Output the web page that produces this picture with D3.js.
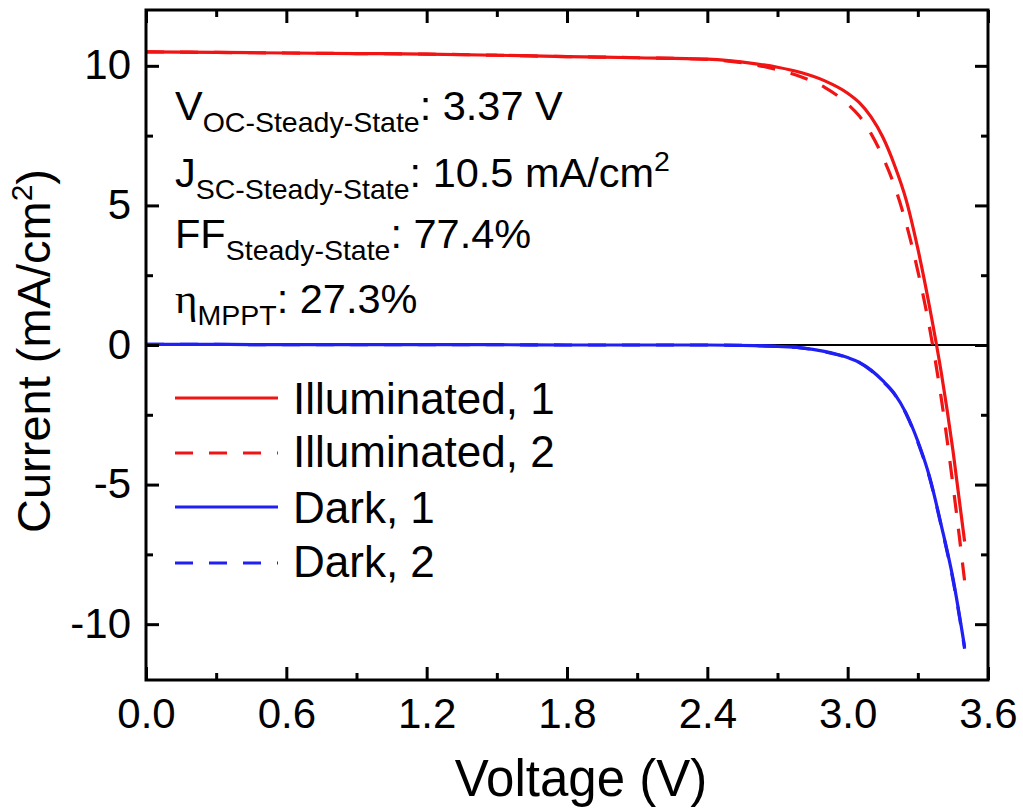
<!DOCTYPE html>
<html>
<head>
<meta charset="utf-8">
<script src="https://cdn.jsdelivr.net/npm/d3@7"></script>
<style>
  html, body { margin: 0; padding: 0; background: #fff; }
  svg { display: block; font-family: "Liberation Sans", Arial, sans-serif; }
</style>
</head>
<body>
<svg id="chart" width="1023" height="809"></svg>
<script>
// J–V sweeps of the device, voltage in V, current density in mA/cm²
const voltage = [0, 0.3, 0.6, 0.9, 1.2, 1.5, 1.8, 2.1, 2.4, 2.6, 2.7, 2.8, 2.9, 3.0, 3.05, 3.1, 3.15, 3.2, 3.25, 3.3, 3.35, 3.4, 3.45, 3.5];

const illuminated1 = [10.50, 10.48, 10.46, 10.44, 10.42, 10.38, 10.33, 10.29, 10.24, 10.08, 9.95, 9.76, 9.47, 9.02, 8.68, 8.17, 7.45, 6.45, 5.20, 3.45, 1.37, -0.98, -3.77, -7.04];
const illuminated2 = [10.50, 10.48, 10.46, 10.44, 10.42, 10.38, 10.33, 10.29, 10.23, 10.04, 9.86, 9.61, 9.24, 8.63, 8.20, 7.57, 6.74, 5.70, 4.35, 2.65, 0.62, -1.90, -5.00, -8.45];
const dark1 = [0.02, 0.02, 0.01, 0.01, 0.01, 0.01, 0.00, 0.00, 0.00, -0.02, -0.05, -0.10, -0.23, -0.45, -0.62, -0.90, -1.28, -1.74, -2.45, -3.45, -4.72, -6.45, -8.35, -10.82];
const dark2 = [0.02, 0.02, 0.01, 0.01, 0.01, 0.01, 0.00, 0.00, 0.00, -0.02, -0.05, -0.10, -0.24, -0.46, -0.63, -0.91, -1.30, -1.76, -2.47, -3.48, -4.75, -6.48, -8.40, -10.88];

const seriesNames = ["Illuminated, 1", "Illuminated, 2", "Dark, 1", "Dark, 2"];
const seriesValues = [illuminated1, illuminated2, dark1, dark2];
const seriesColors = ["#f01414", "#f01414", "#2020f4", "#2020f4"];
const seriesDashed = [false, true, false, true];

const xTicks = [0, 0.6, 1.2, 1.8, 2.4, 3.0, 3.6];
const xMinorTicks = [0.3, 0.9, 1.5, 2.1, 2.7, 3.3];
const yTicks = [-10, -5, 0, 5, 10];
const yMinorTicks = [-7.5, -2.5, 2.5, 7.5];

const svg = d3.select("#chart");
const W = 1023, H = 809;
const plot = { left: 146, right: 988, top: 10, bottom: 680 };

svg.append("rect").attr("width", W).attr("height", H).attr("fill", "#fff");

const x = d3.scaleLinear().domain([0, 3.6]).range([plot.left, plot.right]);
const y = d3.scaleLinear().domain([-12, 12]).range([plot.bottom, plot.top]);

// zero-current reference line
svg.append("line")
  .attr("x1", x(0)).attr("x2", x(3.6))
  .attr("y1", y(0)).attr("y2", y(0))
  .attr("stroke", "#000").attr("stroke-width", 2);

// curves
const line = d3.line()
  .x((d, i) => x(voltage[i]))
  .y(d => y(d))
  .curve(d3.curveMonotoneX);

svg.append("defs").append("clipPath").attr("id", "clip")
  .append("rect")
  .attr("x", plot.left).attr("y", plot.top)
  .attr("width", plot.right - plot.left).attr("height", plot.bottom - plot.top);

const curves = svg.append("g").attr("clip-path", "url(#clip)");
// dark sweeps first so the illuminated ones sit on top
[3, 2, 1, 0].forEach(k => {
  curves.append("path")
    .datum(seriesValues[k])
    .attr("d", line)
    .attr("fill", "none")
    .attr("stroke", seriesColors[k])
    .attr("stroke-width", 3.2)
    .attr("stroke-dasharray", seriesDashed[k] ? "18,16" : null);
});

// axes: ticks pointing inward on all four sides
const tickW = 3;
function addAxis(gen, tx, ty) {
  const g = svg.append("g").attr("transform", `translate(${tx},${ty})`).call(gen);
  g.select(".domain").remove();
  g.selectAll("line").attr("stroke", "#000").attr("stroke-width", tickW);
  return g;
}

const fmtX = d3.format(".1f");
const fmtY = v => String(v); // plain hyphen-minus for negatives
// bottom
const gx = addAxis(d3.axisBottom(x).tickValues(xTicks).tickSize(-13).tickFormat(fmtX).tickPadding(0), 0, plot.bottom);
gx.selectAll("text").attr("font-size", 42).attr("fill", "#000").attr("dy", null).attr("y", 48)
  .attr("font-family", "Liberation Sans, Arial, sans-serif");
addAxis(d3.axisBottom(x).tickValues(xMinorTicks).tickSize(-7).tickFormat(""), 0, plot.bottom);
// top
addAxis(d3.axisTop(x).tickValues(xTicks).tickSize(-13).tickFormat(""), 0, plot.top);
addAxis(d3.axisTop(x).tickValues(xMinorTicks).tickSize(-7).tickFormat(""), 0, plot.top);
// left
const gy = addAxis(d3.axisLeft(y).tickValues(yTicks).tickSize(-13).tickFormat(fmtY).tickPadding(15), plot.left, 0);
gy.selectAll("text").attr("font-size", 42).attr("fill", "#000").attr("dy", 13)
  .attr("font-family", "Liberation Sans, Arial, sans-serif");
addAxis(d3.axisLeft(y).tickValues(yMinorTicks).tickSize(-7).tickFormat(""), plot.left, 0);
// right
addAxis(d3.axisRight(y).tickValues(yTicks).tickSize(-13).tickFormat(""), plot.right, 0);
addAxis(d3.axisRight(y).tickValues(yMinorTicks).tickSize(-7).tickFormat(""), plot.right, 0);

// frame
svg.append("rect")
  .attr("x", plot.left).attr("y", plot.top)
  .attr("width", plot.right - plot.left).attr("height", plot.bottom - plot.top)
  .attr("fill", "none").attr("stroke", "#000").attr("stroke-width", 3);

// axis titles
svg.append("text")
  .attr("x", 581).attr("y", 796)
  .attr("text-anchor", "middle")
  .attr("font-size", 51)
  .text("Voltage (V)");

const yt = svg.append("text")
  .attr("transform", "translate(50,351) rotate(-90)")
  .attr("text-anchor", "middle")
  .attr("font-size", 47);
yt.append("tspan").text("Current (mA/cm");
yt.append("tspan").attr("font-size", 30).attr("dy", -18).text("2");
yt.append("tspan").attr("dy", 18).text(")");

// performance annotations
const notes = [
  { main: "V", sub: "OC-Steady-State", rest: ": 3.37 V", y: 120 },
  { main: "J", sub: "SC-Steady-State", rest: ": 10.5 mA/cm", sup: "2", y: 187 },
  { main: "FF", sub: "Steady-State", rest: ": 77.4%", y: 248 },
  { main: "η", sub: "MPPT", rest: ": 27.3%", y: 313, serif: true }
];
notes.forEach(n => {
  const t = svg.append("text").attr("x", 175).attr("y", n.y).attr("font-size", 41.5);
  const m = t.append("tspan").text(n.main);
  if (n.serif) m.attr("font-family", "Liberation Serif, Times New Roman, serif").attr("font-size", 43);
  t.append("tspan").attr("font-size", 28.5).attr("dy", 12).text(n.sub);
  t.append("tspan").attr("dy", -12).text(n.rest);
  if (n.sup) t.append("tspan").attr("font-size", 28.5).attr("dy", -16).text(n.sup);
});

// legend
const legendRows = [398, 453, 507, 563];
const legendText = [414, 467, 523, 577];
seriesNames.forEach((name, k) => {
  svg.append("line")
    .attr("x1", 175).attr("x2", 278)
    .attr("y1", legendRows[k]).attr("y2", legendRows[k])
    .attr("stroke", seriesColors[k]).attr("stroke-width", 3.2)
    .attr("stroke-dasharray", seriesDashed[k] ? "18,16" : null);
  svg.append("text")
    .attr("x", 293).attr("y", legendText[k])
    .attr("font-size", 44)
    .text(name);
});
</script>
</body>
</html>
